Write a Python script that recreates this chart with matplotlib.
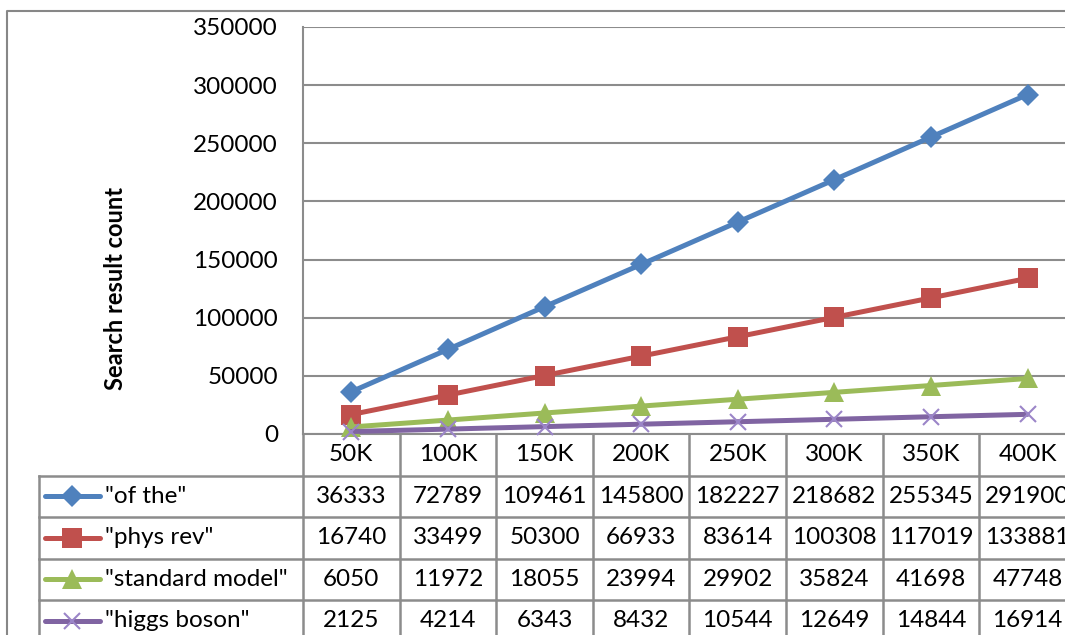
import matplotlib
matplotlib.use("Agg")
import matplotlib.pyplot as plt
import matplotlib.transforms as mtransforms
from matplotlib.lines import Line2D

plt.rcParams['font.family'] = ['Lato', 'DejaVu Sans']

categories = ["50K", "100K", "150K", "200K", "250K", "300K", "350K", "400K"]
series_names = ['"of the"', '"phys rev"', '"standard model"', '"higgs boson"']
of_the = [36333, 72789, 109461, 145800, 182227, 218682, 255345, 291900]
phys_rev = [16740, 33499, 50300, 66933, 83614, 100308, 117019, 133881]
standard_model = [6050, 11972, 18055, 23994, 29902, 35824, 41698, 47748]
higgs_boson = [2125, 4214, 6343, 8432, 10544, 12649, 14844, 16914]
y_ticks = [0, 50000, 100000, 150000, 200000, 250000, 300000, 350000]

series = [of_the, phys_rev, standard_model, higgs_boson]
colors = ["#4F81BD", "#C0504D", "#9BBB59", "#8064A2"]
marker_styles = [
    dict(marker="D", markersize=11, markeredgewidth=0),
    dict(marker="s", markersize=14, markeredgewidth=0),
    dict(marker="^", markersize=14, markeredgewidth=0),
    dict(marker="x", markersize=12, markeredgewidth=1.5, markeredgecolor="#9B85C8"),
]

W, H = 1065, 635
fig = plt.figure(figsize=(W / 100, H / 100), dpi=100)

# plot area in pixel terms
left_px, top_px, bottom_px = 303, 27, 434
col_w = 96.6
ax = fig.add_axes([left_px / W, 1 - bottom_px / H,
                   len(categories) * col_w / W, (bottom_px - top_px) / H])

grid_c = "#8C8C8C"
fs = 17.5
lw = 3.6
x = list(range(len(categories)))

ax.set_xlim(-0.5, len(categories) - 0.5)
ax.set_ylim(0, 350000)
ax.set_yticks(y_ticks)
ax.set_yticklabels([str(v) for v in y_ticks], fontsize=fs)
ax.set_xticks([])
ax.tick_params(axis="y", length=0, pad=18)
ax.yaxis.grid(True, color=grid_c, linewidth=1.5)
ax.set_axisbelow(True)
for side in ["right", "top"]:
    ax.spines[side].set_visible(False)
for side in ["left", "bottom"]:
    ax.spines[side].set_color(grid_c)
    ax.spines[side].set_linewidth(1.5)

for vals, c, ms in zip(series, colors, marker_styles):
    kw = dict(ms)
    kw.setdefault("markeredgecolor", c)
    ax.plot(x, vals, color=c, linewidth=lw, markerfacecolor=c,
            clip_on=False, zorder=3, solid_capstyle="round", **kw)

ax.set_ylabel("Search result count", fontsize=17, fontweight="bold")
ax.yaxis.set_label_coords(127 / W, 1 - 289 / H, transform=fig.transFigure)

# data table below the plot
trans = mtransforms.blended_transform_factory(ax.transData, ax.transAxes)
ax_h = bottom_px - top_px
row_h = 41.5 / ax_h
leg_left = -0.5 - (left_px - 39) / col_w
n_rows = len(series)
right_x = len(categories) - 0.5


def tline(xs, ys, **kw):
    ax.add_line(Line2D(xs, ys, transform=trans, color=grid_c, linewidth=1.8,
                       clip_on=False, **kw))


# horizontal rules
for r in range(1, n_rows + 2):
    y = -r * row_h
    tline([leg_left, right_x], [y, y])
# vertical rules
table_bottom = -(n_rows + 1) * row_h
for i in range(len(categories) + 1):
    tline([i - 0.5, i - 0.5], [0, table_bottom])
tline([leg_left, leg_left], [-row_h, table_bottom])

# header row
for i, cat in enumerate(categories):
    ax.text(i, -0.5 * row_h, cat, transform=trans, ha="center", va="center",
            fontsize=fs, clip_on=False)

# series rows
key_x0 = leg_left + (45 - 39) / col_w
key_x1 = leg_left + (100 - 39) / col_w
key_xm = (key_x0 + key_x1) / 2
label_x = leg_left + (105 - 39) / col_w
for r, (name, vals, c, ms) in enumerate(zip(series_names, series, colors, marker_styles)):
    yc = -(r + 1.5) * row_h
    kw = dict(ms)
    kw.setdefault("markeredgecolor", c)
    ax.add_line(Line2D([key_x0, key_x1], [yc, yc], transform=trans, color=c,
                       linewidth=lw, clip_on=False, solid_capstyle="round"))
    ax.add_line(Line2D([key_xm], [yc], transform=trans, color=c,
                       markerfacecolor=c, linestyle="none", clip_on=False, **kw))
    ax.text(label_x, yc, name, transform=trans, ha="left", va="center",
            fontsize=fs, clip_on=False)
    for i, v in enumerate(vals):
        ax.text(i, yc, str(v), transform=trans, ha="center", va="center",
                fontsize=fs, clip_on=False)

# outer chart border
border = mtransforms.Affine2D().scale(1 / W, 1 / H) + fig.transFigure
fig.add_artist(Line2D([7, 7, W + 5], [-5, H - 11, H - 11], transform=border,
                      color="#878787", linewidth=1.5))

fig.savefig("out.png", dpi=100)
